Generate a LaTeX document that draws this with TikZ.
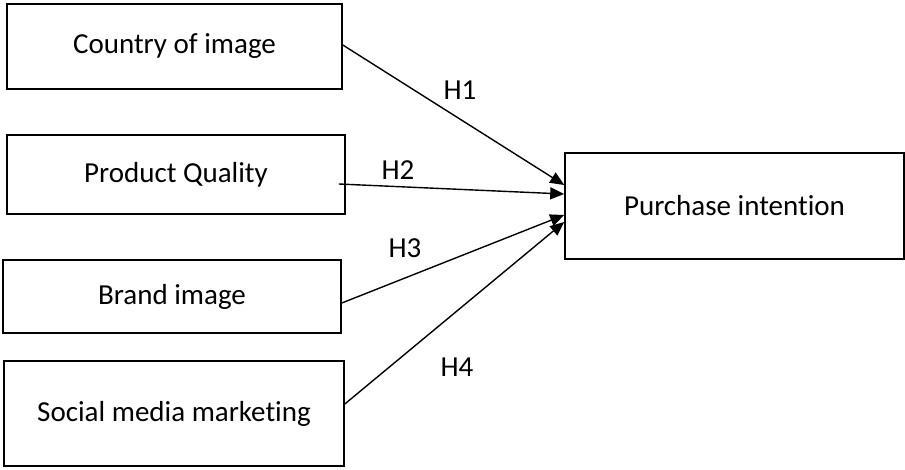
\documentclass[tikz,border=0pt]{standalone}
\usepackage{fontspec}
\setmainfont[Ligatures={NoCommon}]{Carlito}
\usetikzlibrary{arrows.meta,calc}
\tikzset{
  varbox/.style={draw=black, line width=1.6pt, rectangle, inner sep=0pt,
    font=\fontsize{29}{35}\selectfont},
  hyplabel/.style={font=\fontsize{29}{35}\selectfont, inner sep=0pt},
  hyparrow/.style={draw=black, line width=1.4pt, -{Triangle[length=14pt,width=12pt]}}
}
\begin{document}
\begin{tikzpicture}[x=1pt,y=-1pt]
  \useasboundingbox (0,0) rectangle (905,469);
  % predictors
  \node[varbox, minimum width=335pt, minimum height=85pt] (coi) at (174.5,46.5) {Country of image};
  \node[varbox, minimum width=338pt, minimum height=79pt] (pq) at (176,174.5) {Product Quality};
  \node[varbox, minimum width=338pt, minimum height=73pt] (bi) at (172,296.5) {Brand image};
  \node[varbox, minimum width=340pt, minimum height=105pt] (smm) at (174,413.5) {Social media marketing};
  % outcome
  \node[varbox, minimum width=339pt, minimum height=106pt] (pi) at (734.5,206) {Purchase intention};
  % hypothesised paths (offsets measured downward from each anchor)
  \draw[hyparrow] ($(coi.east)+(0,-1.5)$) -- ($(pi.west)+(0,-21)$);
  \draw[hyparrow] ($(pq.east)+(-7,9.5)$) -- ($(pi.west)+(0,-12)$);
  \draw[hyparrow] ($(bi.east)+(0,6.5)$) -- ($(pi.west)+(0,9)$);
  \draw[hyparrow] ($(smm.east)+(0,-9.5)$) -- ($(pi.west)+(0,16)$);
  % path labels
  \node[hyplabel] (h1) at (460,90) {H1};
  \node[hyplabel] (h2) at (398,170) {H2};
  \node[hyplabel] (h3) at (405,248) {H3};
  \node[hyplabel] (h4) at (457,367) {H4};
\end{tikzpicture}
\end{document}
